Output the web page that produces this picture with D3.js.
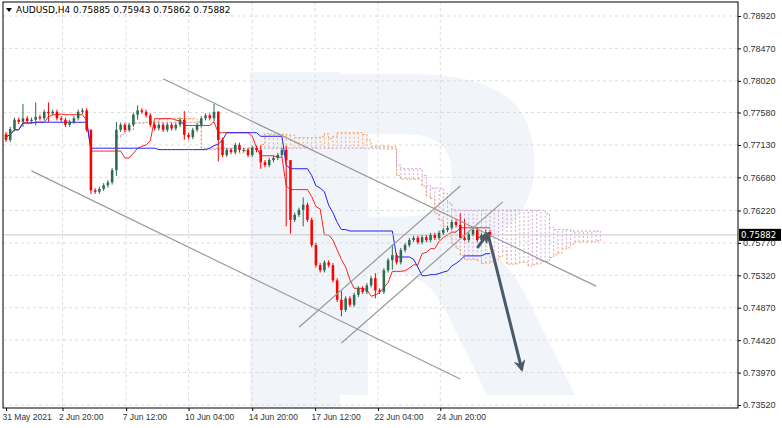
<!DOCTYPE html>
<html>
<head>
<meta charset="utf-8">
<script src="https://cdnjs.cloudflare.com/ajax/libs/d3/7.8.5/d3.min.js"></script>
<style>
  body { margin: 0; background: #fff; }
  svg { font-family: Tahoma, "DejaVu Sans", sans-serif; }
</style>
</head>
<body>
<svg id="chart" width="782" height="428"></svg>
<script>
// closes of the 4H candles, open = previous close
const closes = [
  0.7720,0.7735,0.7748,0.7745,0.7750,0.7746,0.7748,0.7752,0.7750,0.7759,0.7757,0.7759,0.7750,0.7748,0.7741,0.7745,0.7750,0.7759,0.7761,
  0.7734,0.7650,0.7648,0.7652,0.7657,0.7661,0.7678,0.7734,0.7741,0.7734,0.7741,0.7755,0.7761,0.7759,0.7754,0.7741,0.7736,0.7741,0.7734,0.7741,0.7736,0.7741,0.7748,0.7727,0.7724,0.7734,0.7741,0.7750,0.7754,0.7750,0.7759,
  0.7720,0.7699,0.7706,0.7703,0.7713,0.7706,0.7706,0.7699,0.7709,0.7706,0.7689,0.7685,0.7692,0.7695,0.7699,0.7706,0.7692,
  0.7609,0.7616,0.7623,0.7630,0.7609,0.7574,0.7546,0.7539,0.7550,0.7546,0.7525,0.7498,0.7484,0.7500,0.7491,0.7505,0.7514,0.7509,0.7518,0.7528,0.7511,0.7509,0.7539,0.7553,0.7560,0.7550,0.7567,0.7574,0.7581,0.7584,0.7578,0.7585,0.7581,0.7588,0.7584,0.7591,0.7595,0.7598,0.7606,0.7602,0.7584,0.7581,0.7589,0.7595,0.7581,0.7588,0.7592,0.7588
];
const firstOpen = 0.7728;
// notable wicks (index -> [high, low]); others get a small default wick
const wicks = {
  4: [0.7770, 0.7738], 7: [0.7772, 0.7740], 10: [0.7772, 0.7745], 20: [0.7735, 0.7645],
  26: [0.7745, 0.7670], 31: [0.7768, 0.7748], 42: [0.7760, 0.7720], 49: [0.7770, 0.7745],
  50: [0.7760, 0.7690], 60: [0.7712, 0.7680], 66: [0.7712, 0.7600], 67: [0.7640, 0.7590],
  70: [0.7640, 0.7600], 79: [0.7510, 0.7475], 87: [0.7535, 0.7500], 91: [0.7575, 0.7540],
  107: [0.7618, 0.7596], 108: [0.7610, 0.7580]
};
const priceTicks = [0.78920,0.78470,0.78020,0.77580,0.77130,0.76680,0.76220,0.75770,0.75320,0.74870,0.74420,0.73970,0.73520];
const timeLabels = [[0,'31 May 2021'],[13.3,'2 Jun 20:00'],[28.3,'7 Jun 12:00'],[43,'10 Jun 04:00'],[58,'14 Jun 20:00'],[72.8,'17 Jun 12:00'],[87.6,'22 Jun 04:00'],[102.3,'24 Jun 20:00']];
const lastPrice = 0.75882;
const title = 'AUDUSD,H4  0.75885 0.75943 0.75862 0.75882';
// hand-drawn lines: [barIndex, price]
const channels = [
  [[37, 0.7805], [139, 0.7517]],
  [[6, 0.7677], [107, 0.7388]],
  [[69, 0.7460], [107, 0.7656]],
  [[79, 0.7438], [117, 0.7634]]
];
const arrowUp = [[111, 0.7570], [113.5, 0.7590]];
const arrowDown = [[113.5, 0.7590], [121.5, 0.7401]];

const svg = d3.select('#chart');
const margin = { left: 3, right: 44, top: 2, bottom: 20 };
const W = 782, H = 428;
const plotR = W - margin.right, plotB = H - margin.bottom;

const n = closes.length;
const data = closes.map((c, i) => {
  const o = i === 0 ? firstOpen : closes[i - 1];
  const w = wicks[i];
  return {
    i, o, c,
    h: w ? w[0] : Math.max(o, c) + 0.0003,
    l: w ? w[1] : Math.min(o, c) - 0.0003
  };
});

// ichimoku
const hl = (a, b) => {
  const s = data.slice(Math.max(0, a), b + 1);
  return (d3.max(s, d => d.h) + d3.min(s, d => d.l)) / 2;
};
const tenkan = data.map(d => hl(d.i - 8, d.i));
const kijun = data.map(d => hl(d.i - 25, d.i));
const cloud = data.map(d => ({ i: d.i + 26, a: (tenkan[d.i] + kijun[d.i]) / 2, b: hl(d.i - 51, d.i) }));

const x = d3.scaleLinear().domain([0, n - 1]).range([6, 490]);
const y = d3.scaleLinear().domain([0.73520, 0.78920]).range([405, 16]);
const step = x(1) - x(0);

// watermark
svg.append('rect').attr('x', 250).attr('y', 72).attr('width', 90).attr('height', plotB - 72).attr('fill', '#f1f4f9');
svg.append('text').attr('x', 245).attr('y', 395).attr('font-size', 440).attr('font-weight', 'bold')
  .attr('font-family', 'DejaVu Sans').attr('fill', '#f1f4f9').text('R');

// grid
const grid = svg.append('g').attr('stroke', '#dcdcdc').attr('stroke-dasharray', '3,3');
priceTicks.forEach(p => grid.append('line').attr('x1', margin.left).attr('x2', plotR).attr('y1', y(p)).attr('y2', y(p)));
timeLabels.slice(1).forEach(t => grid.append('line').attr('x1', x(t[0])).attr('x2', x(t[0])).attr('y1', margin.top).attr('y2', plotB));

// cloud
const cg = svg.append('g');
cloud.filter(d => d.i > 0 && d.i < n + 26).forEach(d => {
  cg.append('line').attr('x1', x(d.i)).attr('x2', x(d.i)).attr('y1', y(d.a)).attr('y2', y(d.b))
    .attr('stroke', d.a >= d.b ? '#f5b27a' : '#d6a7d6').attr('stroke-dasharray', '2,2').attr('stroke-width', 1);
});
const cl = cloud.filter(d => d.i > 0);
svg.append('path').datum(cl).attr('fill', 'none').attr('stroke', '#f0a060').attr('stroke-dasharray', '2,2')
  .attr('d', d3.line().x(d => x(d.i)).y(d => y(d.a)).curve(d3.curveStepAfter));
svg.append('path').datum(cl).attr('fill', 'none').attr('stroke', '#cc99cc').attr('stroke-dasharray', '2,2')
  .attr('d', d3.line().x(d => x(d.i)).y(d => y(d.b)).curve(d3.curveStepAfter));

// tenkan / kijun
svg.append('path').datum(tenkan).attr('fill', 'none').attr('stroke', '#ff2020').attr('stroke-width', 1)
  .attr('d', d3.line().x((d, i) => x(i)).y(d => y(d)));
svg.append('path').datum(kijun).attr('fill', 'none').attr('stroke', '#2020ff').attr('stroke-width', 1)
  .attr('d', d3.line().x((d, i) => x(i)).y(d => y(d)));

// current price line
svg.append('line').attr('x1', margin.left).attr('x2', plotR).attr('y1', y(lastPrice)).attr('y2', y(lastPrice)).attr('stroke', '#c8c8c8');

// candles
const cw = Math.max(2, step * 0.6);
const cs = svg.append('g').selectAll('g').data(data).enter().append('g');
cs.append('line').attr('x1', d => x(d.i)).attr('x2', d => x(d.i)).attr('y1', d => y(d.h)).attr('y2', d => y(d.l))
  .attr('stroke', d => d.c >= d.o ? '#2f6b4f' : '#ff0000');
cs.append('rect').attr('x', d => x(d.i) - cw / 2).attr('width', cw)
  .attr('y', d => y(Math.max(d.o, d.c))).attr('height', d => Math.max(1, Math.abs(y(d.o) - y(d.c))))
  .attr('fill', d => d.c >= d.o ? '#2f6b4f' : '#ff0000');

// channels
channels.forEach(c => svg.append('line').attr('x1', x(c[0][0])).attr('y1', y(c[0][1])).attr('x2', x(c[1][0])).attr('y2', y(c[1][1]))
  .attr('stroke', '#9a9a9a').attr('stroke-width', 1.2));

// arrows
const defs = svg.append('defs');
defs.append('marker').attr('id', 'ah').attr('viewBox', '0 0 10 10').attr('refX', 8).attr('refY', 5)
  .attr('markerWidth', 4).attr('markerHeight', 4).attr('orient', 'auto')
  .append('path').attr('d', 'M0,0 L10,5 L0,10 L3,5 Z').attr('fill', '#4a5a66');
[arrowUp, arrowDown].forEach(a => svg.append('line').attr('x1', x(a[0][0])).attr('y1', y(a[0][1])).attr('x2', x(a[1][0])).attr('y2', y(a[1][1]))
  .attr('stroke', '#4a5a66').attr('stroke-width', 3).attr('marker-end', 'url(#ah)'));

// frame
svg.append('rect').attr('x', margin.left).attr('y', margin.top).attr('width', plotR - margin.left).attr('height', plotB - margin.top)
  .attr('fill', 'none').attr('stroke', '#000').attr('stroke-width', 1);

// axes
const yAxis = d3.axisRight(y).tickValues(priceTicks).tickSize(3).tickFormat(d3.format('.5f'));
svg.append('g').attr('transform', `translate(${plotR},0)`).call(yAxis)
  .call(g => g.select('.domain').remove())
  .call(g => g.selectAll('text').attr('font-size', 9).attr('fill', '#333').attr('x', 5));
const xAxis = d3.axisBottom(x).tickValues(timeLabels.map(t => t[0])).tickSize(3)
  .tickFormat(v => timeLabels.find(t => t[0] === v)[1]);
svg.append('g').attr('transform', `translate(0,${plotB})`).call(xAxis)
  .call(g => g.select('.domain').remove())
  .call(g => g.selectAll('text').attr('font-size', 8.5).attr('fill', '#333').attr('text-anchor', 'start').attr('x', -4));

// last price label
svg.append('rect').attr('x', plotR + 1).attr('y', y(lastPrice) - 6).attr('width', 42).attr('height', 12).attr('fill', '#000');
svg.append('text').attr('x', plotR + 3).attr('y', y(lastPrice) + 3.5).attr('font-size', 8.5).attr('fill', '#fff').text(lastPrice.toFixed(5));

// title
svg.append('path').attr('d', 'M6,8 L12,8 L9,12 Z').attr('fill', '#000');
svg.append('text').attr('x', 16).attr('y', 13).attr('font-size', 9).attr('fill', '#000').text(title);
</script>
</body>
</html>
